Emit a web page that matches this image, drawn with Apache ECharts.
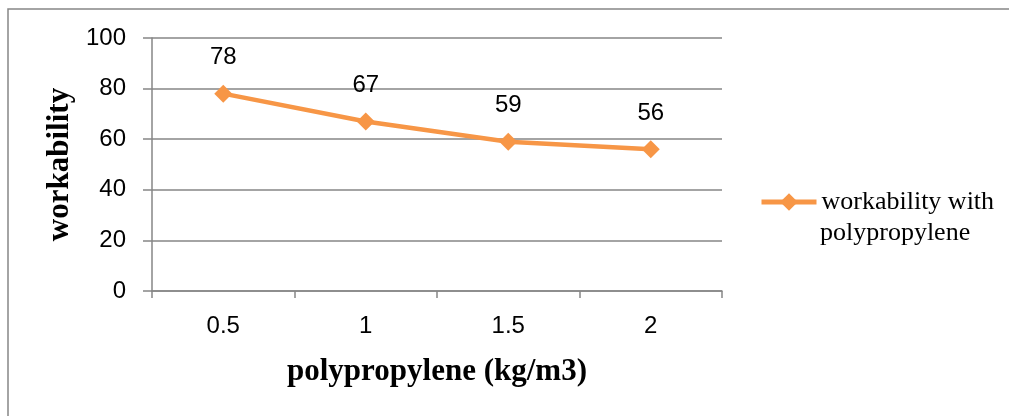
<!DOCTYPE html>
<html>
<head>
<meta charset="utf-8">
<script src="https://cdn.jsdelivr.net/npm/echarts@6/dist/echarts.min.js"></script>
<style>
  html, body { margin: 0; padding: 0; background: #ffffff; }
  #chart { width: 1009px; height: 416px; }
</style>
</head>
<body>
<div id="chart"></div>
<script>
// Polypropylene dosage (kg/m3) and measured workability
const categories = ['0.5', '1', '1.5', '2'];
const workability = [78, 67, 59, 56];
const seriesName = 'workability with';
const seriesNameLine2 = 'polypropylene';
const yMin = 0, yMax = 100, yStep = 20;

const gray = '#868686';
const orange = '#F79646';
const sans = '"Liberation Sans", Arial, sans-serif';
const serif = '"Liberation Serif", "Times New Roman", serif';

const chart = echarts.init(document.getElementById('chart'));
chart.setOption({
  animation: false,
  backgroundColor: '#ffffff',
  graphic: [{
    type: 'rect',
    shape: { x: 8, y: 9, width: 1200, height: 600 },
    style: { fill: 'none', stroke: gray, lineWidth: 1.5 },
    silent: true
  }, {
    // second line of the legend entry
    type: 'text',
    left: 820,
    top: 220,
    style: { text: seriesNameLine2, fill: '#000', font: '26px ' + serif },
    silent: true
  }],
  grid: { left: 152, top: 38, width: 570, height: 253 },
  xAxis: {
    type: 'category',
    data: categories,
    boundaryGap: true,
    axisLine: { lineStyle: { color: gray, width: 1.5 } },
    axisTick: { show: true, length: 7, lineStyle: { color: gray, width: 1.5 } },
    axisLabel: { color: '#000', fontFamily: sans, fontSize: 24, margin: 23 },
    name: 'polypropylene (kg/m3)',
    nameLocation: 'middle',
    nameGap: 65,
    nameTextStyle: { color: '#000', fontFamily: serif, fontWeight: 'bold', fontSize: 31 }
  },
  yAxis: {
    type: 'value',
    min: yMin, max: yMax, interval: yStep,
    axisLine: { show: true, lineStyle: { color: gray, width: 1.5 } },
    axisTick: { show: true, length: 9, lineStyle: { color: gray, width: 1.5 } },
    splitLine: { show: true, lineStyle: { color: gray, width: 1.5 } },
    axisLabel: { color: '#000', fontFamily: sans, fontSize: 24, margin: 26 },
    name: 'workability',
    nameLocation: 'middle',
    nameGap: 69,
    nameRotate: 90,
    nameTextStyle: { color: '#000', fontFamily: serif, fontWeight: 'bold', fontSize: 31 }
  },
  legend: {
    show: true,
    left: 759,
    top: 189,
    padding: 0,
    itemWidth: 55,
    itemHeight: 22,
    itemGap: 5,
    lineStyle: { width: 5 },
    textStyle: { color: '#000', fontFamily: serif, fontSize: 26 },
    data: [seriesName]
  },
  series: [{
    name: seriesName,
    type: 'line',
    data: workability,
    symbol: 'diamond',
    symbolSize: 18,
    color: orange,
    lineStyle: { color: orange, width: 4.5 },
    itemStyle: { color: orange },
    label: {
      show: true,
      position: 'top',
      distance: 15,
      color: '#000',
      fontFamily: sans,
      fontSize: 24
    }
  }]
});
</script>
</body>
</html>
